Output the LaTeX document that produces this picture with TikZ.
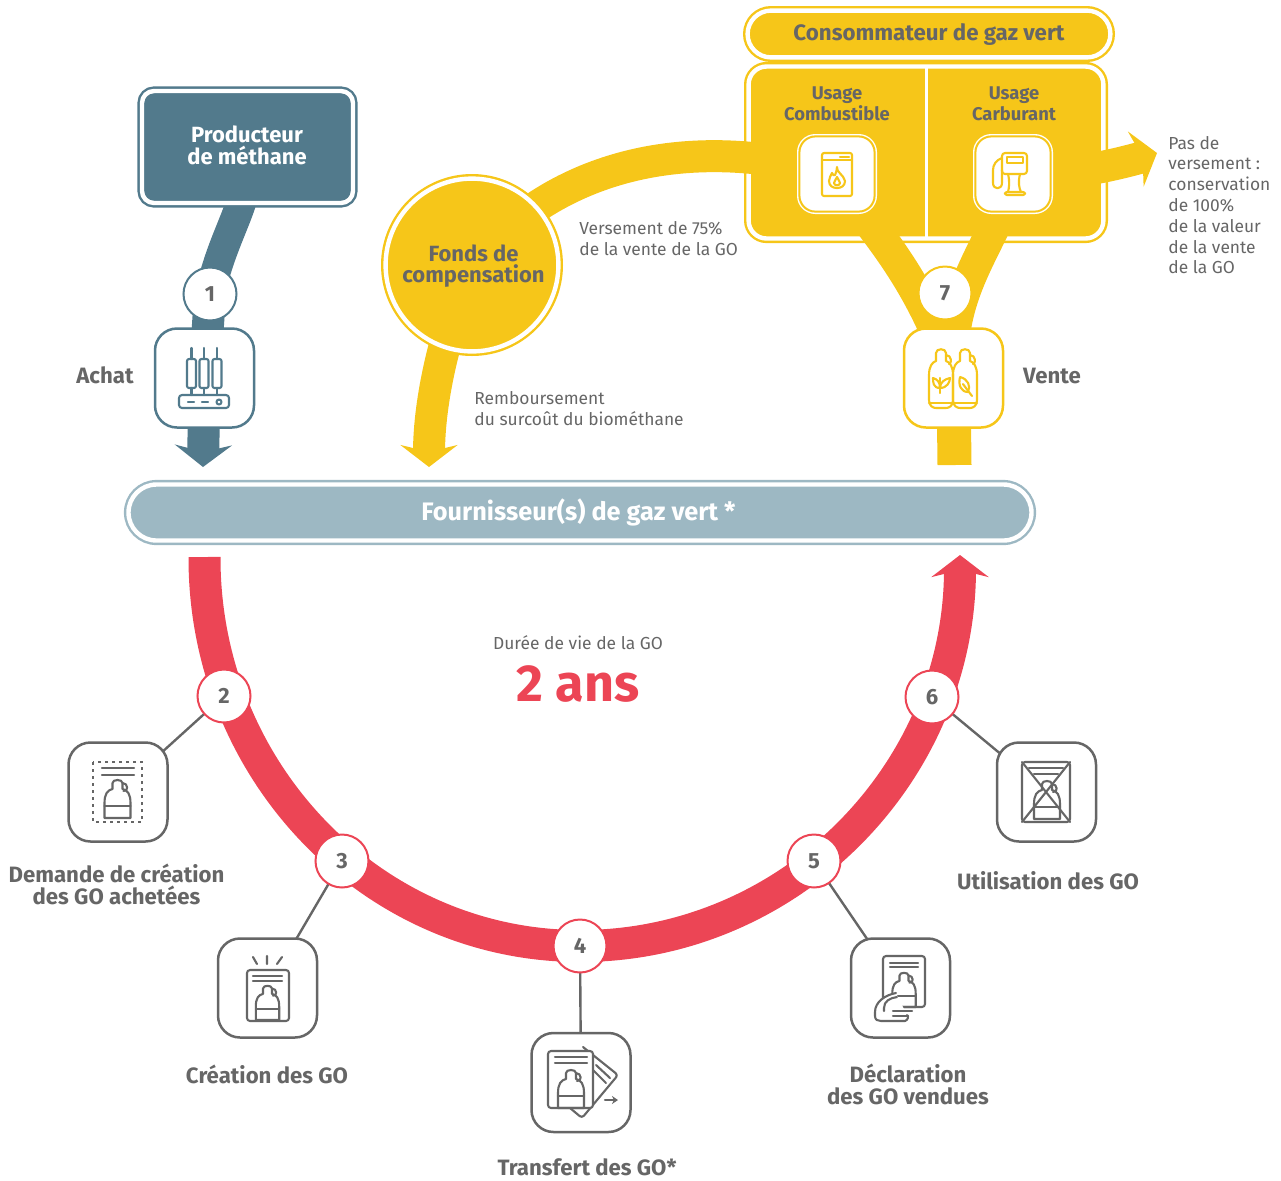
\documentclass[tikz,border=0pt]{standalone}
\usepackage{fontspec}
\setmainfont{Fira Sans}
\usetikzlibrary{arrows.meta,backgrounds,calc}
\definecolor{tealc}{HTML}{527A8C}
\definecolor{paletealc}{HTML}{9DB8C3}
\definecolor{yellowc}{HTML}{F6C619}
\definecolor{redc}{HTML}{EC4555}
\definecolor{greyc}{HTML}{666666}
\tikzset{
flow/.style={draw=#1,line width=16pt},
tip/.style={-{Stealth[length=11pt,width=28.5pt,inset=3.5pt]}},
link/.style={draw=greyc,line width=1.2pt},
iconbox/.style={draw=#1,fill=white,line width=1.25pt,rounded corners=11pt,
  minimum size=49.5pt,inner sep=0pt,outer sep=0pt},
numdot/.style={circle,draw=#1,fill=white,line width=1pt,minimum size=26.5pt,
  inner sep=0pt,outer sep=0pt,text=greyc,font=\bfseries\fontsize{11}{11}\selectfont},
ringbox/.style={draw=#1,fill=#1,double=white,double distance=2.2pt,line width=1.2pt,
  inner sep=0pt,outer sep=0pt,align=center},
chipbox/.style={draw=white,fill=white,double=yellowc,double distance=1pt,line width=.7pt,
  minimum size=37.6pt,rounded corners=8pt,inner sep=0pt,outer sep=0pt},
biglabel/.style={text=#1,align=center,inner sep=0pt,font=\bfseries\fontsize{11.1}{11}\selectfont},
biglabel/.default=greyc,
midlabel/.style={text=greyc,align=center,inner sep=0pt,font=\bfseries\fontsize{9.2}{10.4}\selectfont},
smalllabel/.style={text=greyc,align=left,inner sep=0pt,font=\fontsize{8.7}{10.4}\selectfont},
iconline/.style={line width=1.05pt,line join=round,line cap=round},
bottle/.pic={
  \draw[iconline] (-13,0) -- (-13,-15) .. controls (-13,-24) and (-10,-28) .. (-5,-29)
    -- (-5,-35) .. controls (-5,-39) and (5,-39) .. (5,-35) -- (5,-29)
    .. controls (10,-28) and (13,-24) .. (13,-15) -- (13,0) -- cycle;
  \draw[iconline] (-13,-12) -- (13,-12);
  \draw[iconline] (5,-35) .. controls (11,-35) and (11,-26) .. (6,-27);
},
gasbottle/.pic={
  \draw[iconline] (-12,-8) -- (-12,-33) .. controls (-12,-41) and (-9,-46) .. (-5,-47)
    -- (-5,-55) .. controls (-5,-60) and (5,-60) .. (5,-55) -- (5,-47)
    .. controls (9,-46) and (12,-41) .. (12,-33) -- (12,-8)
    .. controls (12,-2) and (8,0) .. (5,0) -- (-5,0) .. controls (-8,0) and (-12,-2) .. (-12,-8) -- cycle;
  \draw[iconline] (-12,-5) -- (12,-5);
  \draw[iconline] (5,-53) .. controls (11,-53) and (11,-44) .. (8,-44);
}
}
\begin{document}
\begin{tikzpicture}[x=.5pt,y=-.5pt]
\useasboundingbox (0,0) rectangle (1281,1180);

\node[ringbox=tealc,minimum width=105.5pt,minimum height=56pt,rounded corners=6pt] (prod) at (247.5,147) {};
\node[ringbox=paletealc,minimum width=451.5pt,minimum height=28pt,rounded corners=14pt] (fourni) at (580,512.5) {};
\node[ringbox=yellowc,minimum width=181.4pt,minimum height=23.4pt,rounded corners=11.7pt] (conso) at (929,34) {};
\node[ringbox=yellowc,circle,minimum size=86.4pt] (fonds) at (472,265) {};

\node[biglabel=white,font=\bfseries\fontsize{11}{11}\selectfont] (prodlbl) at (247,145) {Producteur\\de méthane};
\node[biglabel=white,font=\bfseries\fontsize{12.65}{12}\selectfont] (fournilbl) at (578.5,512) {Fournisseur(s) de gaz vert *};
\node[biglabel,font=\bfseries\fontsize{11.15}{11}\selectfont] (consolbl) at (929,35) {Consommateur de gaz vert};
\node[biglabel,font=\bfseries\fontsize{11}{10.6}\selectfont] (fondslbl) at (473.5,266) {Fonds de\\compensation};

\node[chipbox] (combu) at (837,174) {};
\node[chipbox] (carbu) at (1013,174) {};
\node[iconbox=tealc] (achat) at (204.5,378) {};
\node[iconbox=yellowc] (vente) at (953.5,378) {};
\node[iconbox=greyc] (demande) at (118,792) {};
\node[iconbox=greyc] (creation) at (267.5,988) {};
\node[iconbox=greyc] (transfert) at (581,1082.5) {};
\node[iconbox=greyc] (declaration) at (900.5,988) {};
\node[iconbox=greyc] (utilisation) at (1046.5,792) {};

\node[numdot=tealc] (n1) at (210,294) {1};
\node[numdot=redc] (n2) at (224,696) {2};
\node[numdot=redc] (n3) at (342,861) {3};
\node[numdot=redc] (n4) at (580,946) {4};
\node[numdot=redc] (n5) at (814,861) {5};
\node[numdot=redc] (n6) at (932,697) {6};
\node[numdot=yellowc] (n7) at (945,293) {7};

\coordinate (achattip) at (203,467);
\coordinate (fondstip) at (429,467);
\coordinate (venteend) at (954.5,465);
\coordinate (pasdetip) at (1157,153);
\coordinate (redstart) at (204.5,557);
\coordinate (redtip) at (960,555);

\begin{scope}[on background layer]
\node[ringbox=yellowc,minimum width=177.4pt,minimum height=86pt,rounded corners=9pt] (usage) at (926,152.5) {};
\draw[white,line width=1.5pt] (usage.north) -- (usage.south);
\draw[flow=yellowc] (combu.center) .. controls (855,215) and (915,260) .. (vente.center);
\draw[flow=yellowc] (carbu.center) .. controls (1000,240) and (945,285) .. (vente.center);
\draw[flow=yellowc] (fonds.center) .. controls (550,170) and (680,130) .. (combu.center);
\draw[flow=yellowc,tip] (carbu.center) .. controls (1060,178) and (1115,165) .. (pasdetip);
\draw[flow=yellowc,line width=17pt] (vente.center) -- (venteend);
\draw[flow=yellowc,tip] (fonds.center) .. controls (445,330) and (429,400) .. (fondstip);
\draw[flow=tealc,line width=15pt] (prod.center) .. controls (254,200) and (224,228) .. (n1.center);
\draw[flow=tealc] (n1.center) -- (achat.center);
\draw[flow=tealc,tip] (achat.center) -- (achattip);
\draw[flow=redc] (redstart) .. controls (204,771) and (372,946) .. (n4.center);
\draw[flow=redc,tip] (n4.center) .. controls (790,946) and (960,773) .. (redtip);
\draw[link] (n2.center) -- (demande.center);
\draw[link] (n3.center) -- (creation.center);
\draw[link] (n4.center) -- (transfert.center);
\draw[link] (n5.center) -- (declaration.center);
\draw[link] (n6.center) -- (utilisation.center);
\end{scope}

\node[biglabel] (achatlbl) at (105,375) {Achat};
\node[biglabel] (ventelbl) at (1052,376) {Vente};
\node[biglabel] (demandelbl) at (116.5,884) {Demande de création\\des GO achetées};
\node[biglabel] (creationlbl) at (267,1074) {Création des GO};
\node[biglabel] (transfertlbl) at (587,1167) {Transfert des GO*};
\node[biglabel] (declarationlbl) at (908,1084) {Déclaration\\des GO vendues};
\node[biglabel] (utilisationlbl) at (1048,881) {Utilisation des GO};
\node[midlabel] (usagea) at (837,103.5) {Usage\\Combustible};
\node[midlabel] (usageb) at (1014,103.5) {Usage\\Carburant};
\node[smalllabel,anchor=west] (versement) at (579,238.5) {Versement de 75\%\\de la vente de la GO};
\node[smalllabel,anchor=west] (rembourse) at (474,408.5) {Remboursement\\du surcoût du biométhane};
\node[smalllabel,anchor=west] (pasde) at (1168,205) {Pas de\\versement :\\conservation\\de 100\%\\de la valeur\\de la vente\\de la GO};
\node[smalllabel] (duree) at (578,643) {Durée de vie de la GO};
\node[text=redc,inner sep=0pt,font=\bfseries\fontsize{26}{26}\selectfont] (deuxans) at (578,684) {2 ans};

% achat
\begin{scope}[color=tealc]
\foreach \tx in {191.5,204,217}{
  \draw[iconline,rounded corners=1pt] (\tx-4.5,359) rectangle (\tx+4.5,388);
  \draw[iconline] (\tx,348) -- (\tx,359) (\tx,388) -- (\tx,395);
}
\draw[iconline,rounded corners=1.5pt] (179,395) rectangle (229,408);
\draw[iconline,dash pattern=on 3pt off 4pt] (188,402) -- (210,402);
\draw[iconline] (219,402) circle (2.5);
\end{scope}

% vente
\begin{scope}[color=yellowc]
\pic at (941,408) {gasbottle};
\pic at (965,408) {gasbottle};
\draw[iconline] (940,378) -- (940,393);
\draw[iconline] (940,388) .. controls (933,388) and (933,382) .. (933,378) .. controls (937,379) and (940,382) .. (940,388);
\draw[iconline] (940,388) .. controls (947,388) and (950,382) .. (950,378) .. controls (945,379) and (940,382) .. (940,388);
\draw[iconline] (960,377) .. controls (958,385) and (961,392) .. (968,392) .. controls (971,386) and (968,379) .. (960,377);
\draw[iconline] (963,384) -- (972,396);
\end{scope}

% combustible
\begin{scope}[color=yellowc]
\draw[iconline,rounded corners=1pt] (822,153) rectangle (852,196);
\draw[iconline] (822,160) -- (852,160) (840,157) -- (849,157);
\draw[iconline] (837,167) .. controls (836,172) and (844,175) .. (845,181) .. controls (845,186) and (841,188) .. (837,188)
  .. controls (833,188) and (829,186) .. (829,181) .. controls (829,178) and (831,175) .. (832,173) .. controls (833,175) and (834,176) .. (835,175) .. controls (837,173) and (836,170) .. (837,167);
\draw[iconline] (837,177) .. controls (838,180) and (840,181) .. (840,183) .. controls (840,186) and (834,186) .. (834,183) .. controls (834,181) and (836,180) .. (837,177);
\end{scope}

% carburant
\begin{scope}[color=yellowc]
\draw[iconline,rounded corners=1.5pt] (1002,153) rectangle (1027,174);
\draw[iconline] (1007,157) rectangle (1023,163);
\draw[iconline] (1008,174) .. controls (1010,182) and (1009,188) .. (1008,192) (1020,174) .. controls (1018,182) and (1019,188) .. (1021,192);
\draw[iconline,rounded corners=1pt] (1005,192) rectangle (1025,195);
\draw[iconline] (1002,158) .. controls (996,160) and (993,165) .. (993,170) -- (993,183) .. controls (993,190) and (1002,190) .. (1002,183) -- (1002,170);
\end{scope}

% demande
\begin{scope}[color=greyc]
\draw[line width=1.2pt,dash pattern=on 1.5pt off 2pt] (93,762) rectangle (142,822);
\draw[iconline] (102,768) -- (134,768) (102,775) -- (134,775);
\pic at (117.5,818) {bottle};
\end{scope}

% creation
\begin{scope}[color=greyc]
\draw[iconline,rounded corners=1.5pt] (247,970) rectangle (289,1021);
\draw[iconline] (253,976) -- (282,976) (253,981) -- (282,981);
\pic[scale=.9] at (267.5,1020) {bottle};
\draw[iconline] (253,957) -- (257,964) (267,956) -- (267,964) (282,957) -- (277,964);
\end{scope}

% transfert
\begin{scope}[color=greyc]
\draw[iconline,rounded corners=1.5pt] (583,1047) -- (618,1075) -- (582,1118) -- (570,1108);
\draw[iconline] (596,1065) -- (610,1078) (593,1070) -- (606,1083);
\draw[iconline,rounded corners=1.5pt,fill=white] (548,1051) rectangle (593,1108);
\draw[iconline] (555,1057) -- (587,1057) (555,1063) -- (587,1063);
\pic at (571,1108) {bottle};
\draw[iconline,-{Stealth[length=3pt,width=4pt]}] (605,1100) -- (618,1100);
\end{scope}

% declaration
\begin{scope}[color=greyc]
\draw[iconline,rounded corners=1.5pt] (883,956) rectangle (925,1007);
\draw[iconline] (890,963) -- (918,963) (890,967) -- (918,967);
\pic[scale=.9] at (904,1007) {bottle};
\draw[iconline,fill=white] (896,993) .. controls (885,995) and (875,1002) .. (875,1012) -- (875,1016) .. controls (875,1020) and (878,1021) .. (881,1021) -- (905,1021) .. controls (908,1020) and (909,1016) .. (907,1015);
\draw[iconline] (893,1011) -- (912,1011) (893,1016) -- (908,1016);
\draw[iconline] (884,1008) .. controls (884,1001) and (890,998) .. (897,997) (884,1008) -- (884,1011);
\end{scope}

% utilisation
\begin{scope}[color=greyc]
\draw[iconline,rounded corners=1.5pt] (1022,762) rectangle (1070,822);
\draw[iconline] (1022,762) -- (1070,822) (1070,762) -- (1022,822);
\draw[iconline] (1029,768) -- (1063,768) (1034,774) -- (1058,774);
\pic at (1047,819) {bottle};
\end{scope}
\end{tikzpicture}
\end{document}
